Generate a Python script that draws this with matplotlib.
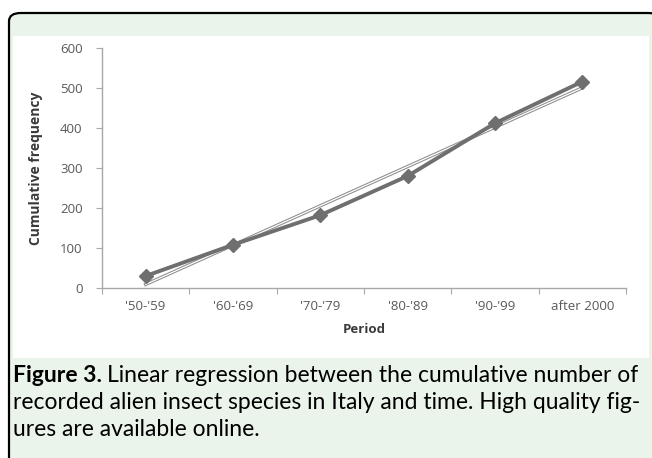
import numpy as np
import matplotlib
matplotlib.use("Agg")
import matplotlib.pyplot as plt
import matplotlib.patheffects as pe
from matplotlib.patches import FancyBboxPatch, Rectangle

# cumulative number of recorded alien insect species per period
periods = ["'50-'59", "'60-'69", "'70-'79", "'80-'89", "'90-'99", "after 2000"]
cumulative = [30, 108, 182, 280, 412, 516]
y_ticks = [0, 100, 200, 300, 400, 500, 600]

W, H = 652, 458
fig = plt.figure(figsize=(W / 100, H / 100), dpi=100)
fig.patch.set_facecolor("white")

def fx(px):
    return px / W

def fy(py):
    return 1 - py / H

# panel background, rounded border, white chart image
box = FancyBboxPatch((fx(9), fy(470)), fx(660) - fx(9), fy(13) - fy(470),
                     boxstyle="round,pad=0,rounding_size=0.018",
                     transform=fig.transFigure, facecolor="#eaf4ea",
                     edgecolor="black", linewidth=1.6, zorder=0)
fig.patches.append(box)
fig.patches.append(Rectangle((fx(13), fy(358)), fx(649) - fx(13), fy(36) - fy(358),
                             transform=fig.transFigure, facecolor="white",
                             edgecolor="none", zorder=1))

# chart axes
ax = fig.add_axes([fx(102), fy(288), fx(626) - fx(102), fy(48) - fy(288)])
ax.set_facecolor("none")
ax.set_zorder(2)
x = np.arange(1, len(periods) + 1)

# linear trendline (least squares, like the Excel trendline)
slope, icpt = np.polyfit(x, cumulative, 1)
ax.plot(x, slope * x + icpt, color="white", lw=0.9, zorder=3,
        path_effects=[pe.Stroke(linewidth=2.4, foreground="#8c8c8c"), pe.Normal()])

ax.plot(x, cumulative, color="#6f6f6f", lw=2.8, marker="D", markersize=7.5,
        markerfacecolor="#6f6f6f", markeredgecolor="#6f6f6f", zorder=4)

ax.set_xlim(0.5, len(periods) + 0.5)
ax.set_ylim(0, 600)
ax.set_yticks(y_ticks)
ax.set_xticks(np.arange(0.5, len(periods) + 1, 1))
ax.set_xticklabels([])
ax.set_xticks(x, minor=True)
ax.set_xticklabels(periods, minor=True)
ax.tick_params(axis="x", which="minor", length=0, pad=9)
ax.tick_params(axis="x", which="major", length=4, color="#a8a8a8", direction="out")
ax.tick_params(axis="y", length=4, color="#a8a8a8", direction="out", pad=10)
for lab in ax.get_xticklabels(minor=True) + ax.get_yticklabels():
    lab.set_fontfamily("Open Sans")
    lab.set_fontsize(9.5)
    lab.set_color("#595959")

for s in ["top", "right"]:
    ax.spines[s].set_visible(False)
for s in ["left", "bottom"]:
    ax.spines[s].set_color("#a8a8a8")
    ax.spines[s].set_linewidth(1)

ax.set_xlabel("Period", fontfamily="Open Sans", fontsize=9.5, fontweight="bold",
              color="#3a3a3a", labelpad=7)
ax.set_ylabel("Cumulative frequency", fontfamily="Open Sans", fontsize=10,
              fontweight="bold", color="#3a3a3a", labelpad=12)

# caption
cap_font = "Lato"
cap_size = 16.5
t = fig.text(fx(13), fy(382), "Figure 3.", fontfamily=cap_font, fontsize=cap_size,
             fontweight="bold", color="black", va="baseline", ha="left")
fig.canvas.draw()
bb = t.get_window_extent()
fig.text(bb.x1 / W + fx(5), fy(382),
         "Linear regression between the cumulative number of",
         fontfamily=cap_font, fontsize=cap_size, color="black", va="baseline", ha="left")
fig.text(fx(13), fy(409), "recorded alien insect species in Italy and time. High quality fig-",
         fontfamily=cap_font, fontsize=cap_size, color="black", va="baseline", ha="left")
fig.text(fx(13), fy(436), "ures are available online.",
         fontfamily=cap_font, fontsize=cap_size, color="black", va="baseline", ha="left")

fig.savefig("out.png", dpi=100)
